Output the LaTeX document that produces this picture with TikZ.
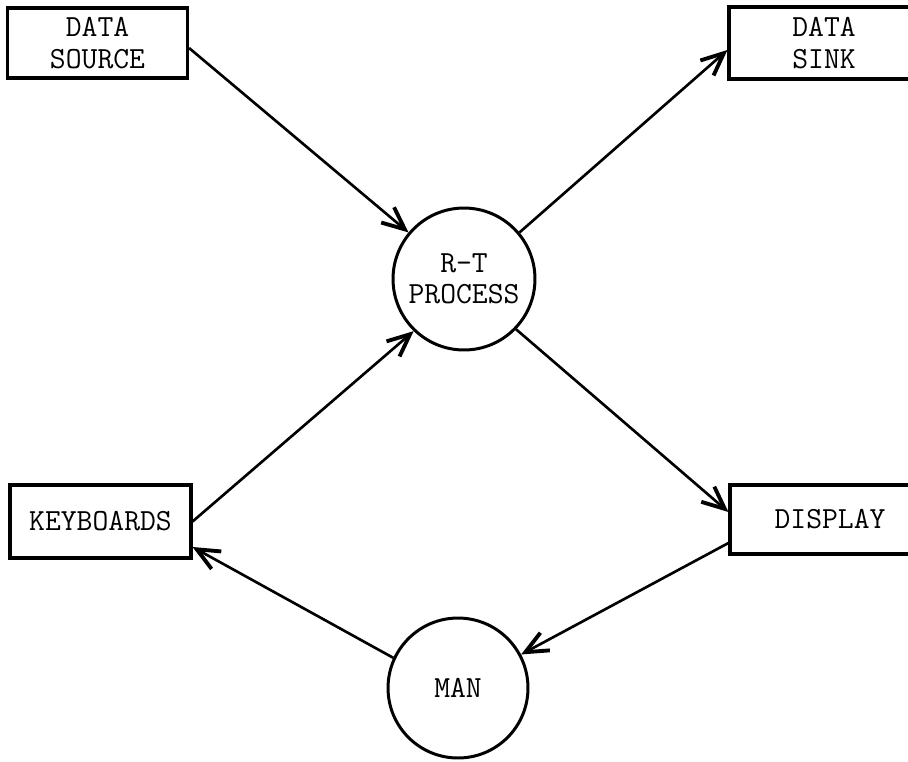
\documentclass[tikz,border=0pt]{standalone}
\usetikzlibrary{arrows.meta}
\tikzstyle{edge}=[draw=black, line width=1.5pt, -{Straight Barb[length=4.5mm,width=4mm,line width=2.2pt]}]
\tikzstyle{box}=[rectangle, draw=black, line width=1.8pt, fill=white, align=center, inner sep=0pt,
  font=\ttfamily\fontsize{17.5}{17.8}\selectfont]
\tikzstyle{proc}=[circle, draw=black, line width=1.7pt, fill=white, align=center, inner sep=0pt,
  font=\ttfamily\fontsize{17.5}{17.8}\selectfont]

\begin{document}
\begin{tikzpicture}[x=0.02cm, y=-0.02cm]
	\clip (0, 0) rectangle (908, 761);
	\node [style=box, minimum width=3.6cm, minimum height=1.4cm] (source) at (97.5, 43) {DATA\\SOURCE};
	\node [style=box, minimum width=3.8cm, minimum height=1.44cm] (sink) at (824, 43) {DATA\\SINK};
	\node [style=proc, minimum size=2.84cm] (rt) at (464, 279) {R-T\\PROCESS};
	\node [style=box, minimum width=3.62cm, minimum height=1.46cm] (kbd) at (100.5, 521.5) {KEYBOARDS};
	\node [style=box, minimum width=4cm, minimum height=1.38cm] (disp) at (830, 519.5) {DISPLAY};
	\node [style=proc, minimum size=2.8cm] (man) at (458, 688) {MAN};

	\draw [style=edge] ([yshift=-0.1cm]source.east) to (rt.140);
	\draw [style=edge] (rt.40) to ([yshift=-0.14cm]sink.west);
	\draw [style=edge] (kbd.east) to (rt.226);
	\draw [style=edge] (rt.-44) to ([yshift=0.15cm]disp.west);
	\draw [style=edge] ([yshift=-0.47cm]disp.west) to (man.28);
	\draw [style=edge] (man.155) to ([yshift=-0.51cm]kbd.east);
\end{tikzpicture}
\end{document}
